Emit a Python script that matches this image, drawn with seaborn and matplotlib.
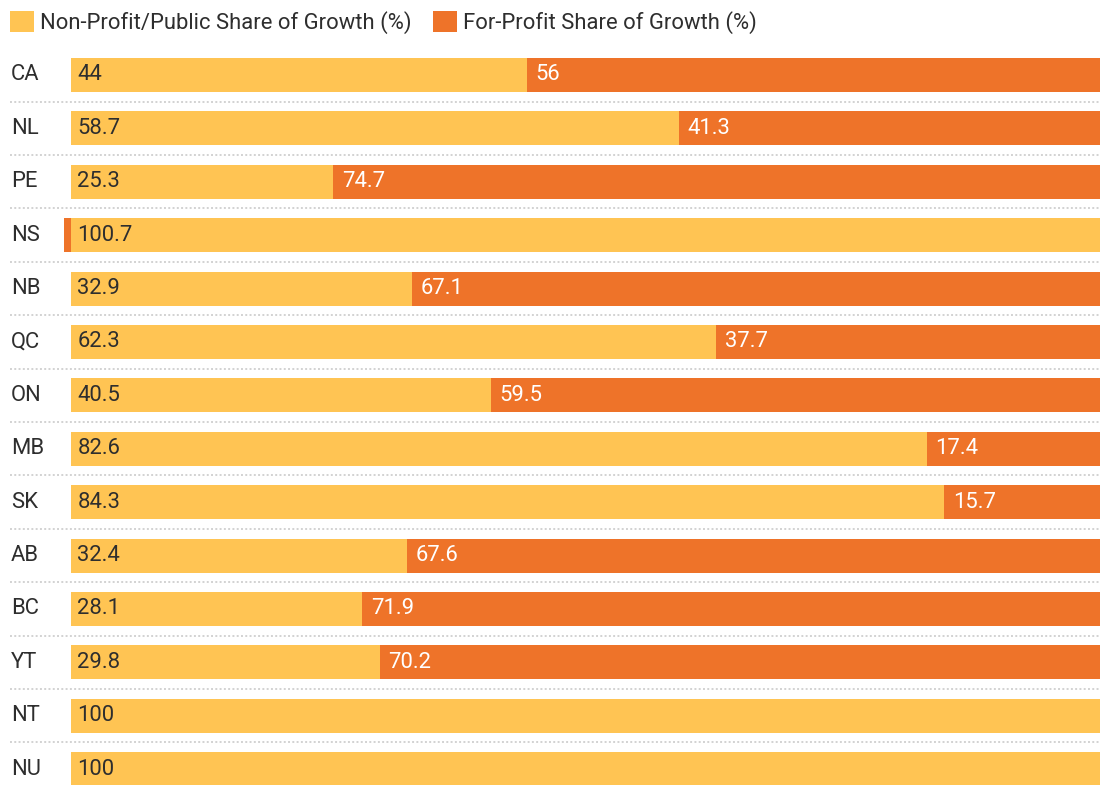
import numpy as np
import pandas as pd
import matplotlib
matplotlib.use("Agg")
import matplotlib.pyplot as plt
from matplotlib.patches import Patch
import seaborn as sns

# Provinces / territories and the split of childcare space growth
provinces = ["CA", "NL", "PE", "NS", "NB", "QC", "ON", "MB", "SK", "AB", "BC", "YT", "NT", "NU"]
nonprofit = [44, 58.7, 25.3, 100.7, 32.9, 62.3, 40.5, 82.6, 84.3, 32.4, 28.1, 29.8, 100, 100]
forprofit = [56, 41.3, 74.7, -0.7, 67.1, 37.7, 59.5, 17.4, 15.7, 67.6, 71.9, 70.2, 0, 0]
series_names = ["Non-Profit/Public Share of Growth (%)", "For-Profit Share of Growth (%)"]

YELLOW = "#FFC453"
ORANGE = "#EE7329"
TEXT = "#2e2e2e"

sns.set_theme(style="white")
plt.rcParams["font.family"] = ["Roboto", "DejaVu Sans"]

df = pd.DataFrame({
    "province": provinces,
    "nonprofit": nonprofit,
    "forprofit": forprofit,
})
df["stack_end"] = df["nonprofit"] + df["forprofit"].clip(lower=0)
df["negative"] = df["forprofit"].clip(upper=0)

W, H = 1100, 785
fig = plt.figure(figsize=(W / 100, H / 100), dpi=100)
top_px = 48.3
ax = fig.add_axes([0, 0, 1, (H - top_px) / H])

bar_kw = dict(orient="h", width=0.64, saturation=1, linewidth=0, ax=ax)
sns.barplot(data=df, x="stack_end", y="province", color=ORANGE, **bar_kw)
sns.barplot(data=df, x="nonprofit", y="province", color=YELLOW, **bar_kw)
sns.barplot(data=df, x="negative", y="province", color=ORANGE, **bar_kw)

x0_px, px_per_unit = 71, 10.36
ax.set_xlim(-x0_px / px_per_unit, (W - x0_px) / px_per_unit)
n = len(provinces)
ax.set_ylim(n - 1 + 0.5 + (H - top_px - n * 53.4) / 53.4, -0.5)
ax.set_axis_off()

fs = 15.8
label_tr = matplotlib.transforms.blended_transform_factory(fig.transFigure, ax.transData)
for i, row in df.iterrows():
    # category label at the left margin
    ax.text(11 / W, i, row["province"], transform=label_tr, ha="left", va="center",
            fontsize=fs, color=TEXT)
    # value labels inside the bars
    ax.annotate(f"{row['nonprofit']:g}", xy=(0, i), xytext=(4.5, 0), textcoords="offset points",
                ha="left", va="center", fontsize=fs, color=TEXT)
    if row["forprofit"] > 0:
        ax.annotate(f"{row['forprofit']:g}", xy=(row["nonprofit"], i), xytext=(6.2, 0),
                    textcoords="offset points", ha="left", va="center", fontsize=fs, color="white")
    # dotted separator between rows
    if i < n - 1:
        ax.axhline(i + 0.5, xmin=10 / W, xmax=1, color="#d2d2d2", lw=1.4,
                   linestyle=(0, (1, 1.2)), zorder=0)

handles = [Patch(facecolor=YELLOW, edgecolor="none"), Patch(facecolor=ORANGE, edgecolor="none")]
fig.legend(handles, series_names, loc="upper left", bbox_to_anchor=(10 / W, 1 - 11 / H),
           ncol=2, frameon=False, fontsize=fs, labelcolor=TEXT,
           handlelength=1.1, handleheight=1.1, handletextpad=0.28, columnspacing=0.95,
           borderaxespad=0, borderpad=0)

fig.savefig("out.png", dpi=100)
